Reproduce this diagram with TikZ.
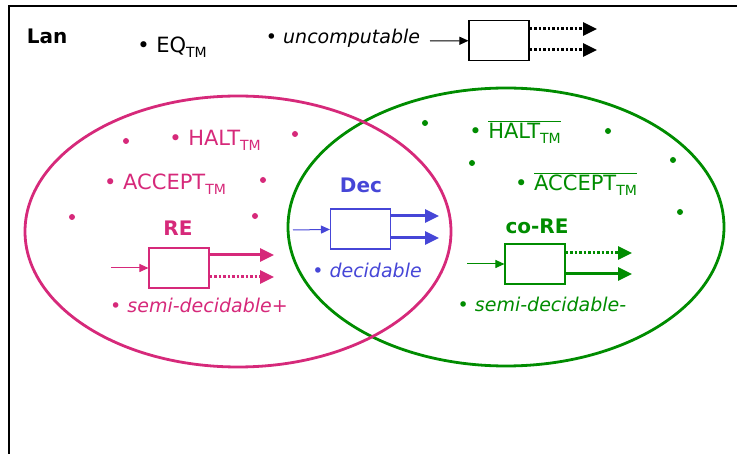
\documentclass[tikz,border=0pt]{standalone}
\usepackage{fontspec}
\setmainfont{DejaVu Sans}
\usepackage{tikz}
\usetikzlibrary{arrows.meta}
\definecolor{repink}{RGB}{214,41,122}
\definecolor{cogreen}{RGB}{0,140,0}
\definecolor{decblue}{RGB}{70,70,215}
\newcommand{\tmsub}{\raisebox{-0.45ex}{\fontsize{14}{14}\selectfont TM}}
\newcommand{\barred}[1]{$\overline{\hbox{#1}}$}
\tikzstyle{lbl}=[inner sep=0pt, font=\fontsize{21}{23}\selectfont]
\tikzstyle{ilbl}=[inner sep=0pt, font=\fontsize{19}{21}\selectfont\itshape]
\tikzstyle{title}=[inner sep=0pt, font=\fontsize{20}{22}\selectfont\bfseries]
\tikzstyle{dotp}=[circle, inner sep=0pt, minimum size=6pt]
\tikzstyle{machine}=[draw, line width=1.1pt, minimum width=60pt, minimum height=40pt, inner sep=0pt]
\tikzstyle{arrowin}=[line width=1pt, -{Triangle[length=9pt,width=8pt]}]
\tikzstyle{arrowout}=[line width=3pt, -{Triangle[length=14pt,width=13pt]}]
\tikzstyle{arrowdot}=[arrowout, dash pattern=on 2.5pt off 2pt]

\begin{document}
\begin{tikzpicture}[x=1pt,y=-1pt]
		\useasboundingbox (0,0) rectangle (737,454);
		\draw[line width=1.2pt] (9,454) -- (9,6) -- (737,6);
		\begin{scope}
			\node[title] (lan) at (47,36) {Lan};
			\node[lbl] (eq) at (172,47) {\textbullet\ EQ\tmsub};
			\node[ilbl] (unc) at (343,38) {\textbullet\ uncomputable};
			\node[machine] (ubox) at (499,40.5) {};
			\coordinate (uin) at (430,41);
			\coordinate (uo1) at (597,29);
			\coordinate (uo2) at (597,50);
			\path [arrowin] (uin) edge (ubox);
			\path [arrowdot] (ubox.east |- uo1) edge (uo1);
			\path [arrowdot] (ubox.east |- uo2) edge (uo2);
		\end{scope}
		% co-RE
		\begin{scope}[color=cogreen]
			\draw[line width=2.8pt] (506,227) ellipse [x radius=218pt, y radius=139pt];
			\node[dotp, fill=cogreen] (g1) at (425,123) {};
			\node[dotp, fill=cogreen] (g2) at (608,131) {};
			\node[dotp, fill=cogreen] (g3) at (472,163) {};
			\node[dotp, fill=cogreen] (g4) at (673,160) {};
			\node[dotp, fill=cogreen] (g5) at (680,212) {};
			\node[lbl] (chalt) at (515,132) {\textbullet\ \barred{HALT\tmsub}};
			\node[lbl] (caccept) at (576,184) {\textbullet\ \barred{ACCEPT\tmsub}};
			\node[title] (core) at (537,226) {co-RE};
			\node[machine] (cobox) at (535,264) {};
			\coordinate (cin) at (467,264);
			\coordinate (co1) at (632,253);
			\coordinate (co2) at (632,274);
			\path [arrowin] (cin) edge (cobox);
			\path [arrowdot] (cobox.east |- co1) edge (co1);
			\path [arrowout] (cobox.east |- co2) edge (co2);
			\node[ilbl] (semim) at (542,304) {\textbullet\ semi-decidable-};
		\end{scope}
		% RE
		\begin{scope}[color=repink]
			\draw[line width=2.8pt] (238,231.5) ellipse [x radius=213pt, y radius=135.5pt];
			\node[dotp, fill=repink] (p1) at (126,141) {};
			\node[dotp, fill=repink] (p2) at (295,134) {};
			\node[dotp, fill=repink] (p3) at (263,180) {};
			\node[dotp, fill=repink] (p4) at (72,217) {};
			\node[dotp, fill=repink] (p5) at (255,216) {};
			\node[lbl] (halt) at (215,140) {\textbullet\ HALT\tmsub};
			\node[lbl] (accept) at (165,184) {\textbullet\ ACCEPT\tmsub};
			\node[title] (re) at (178,228) {RE};
			\node[machine] (rebox) at (179,268) {};
			\coordinate (rin) at (111,268);
			\coordinate (ro1) at (274,255);
			\coordinate (ro2) at (274,277);
			\path [arrowin] (rin) edge (rebox);
			\path [arrowout] (rebox.east |- ro1) edge (ro1);
			\path [arrowdot] (rebox.east |- ro2) edge (ro2);
			\node[ilbl] (semip) at (199,305) {\textbullet\ semi-decidable+};
		\end{scope}
		% Dec
		\begin{scope}[color=decblue]
			\node[title] (dec) at (361,185) {Dec};
			\node[machine] (decbox) at (360.5,229) {};
			\coordinate (din) at (293,230);
			\coordinate (do1) at (439,216);
			\coordinate (do2) at (439,238);
			\path [arrowin] (din) edge (decbox);
			\path [arrowout] (decbox.east |- do1) edge (do1);
			\path [arrowout] (decbox.east |- do2) edge (do2);
			\node[ilbl] (decid) at (367,270) {\textbullet\ decidable};
		\end{scope}
	\end{tikzpicture}
\end{document}
